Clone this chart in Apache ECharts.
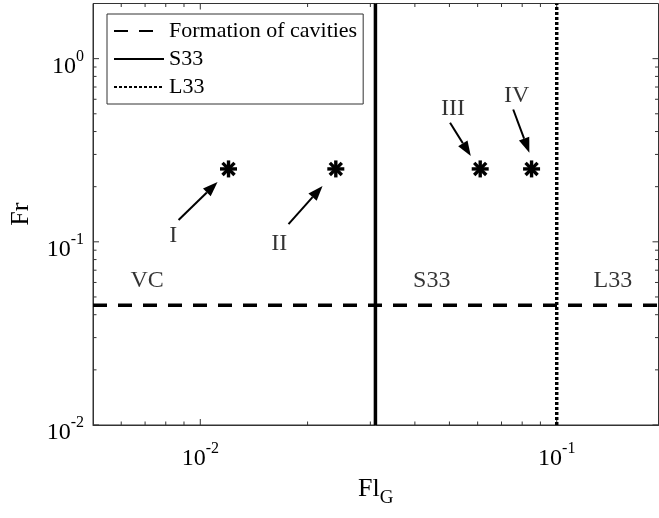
<!DOCTYPE html>
<html>
<head>
<meta charset="utf-8">
<script src="https://cdn.jsdelivr.net/npm/echarts@6/dist/echarts.min.js"></script>
<style>html,body{margin:0;padding:0;background:#fff}#c{width:659px;height:518px}</style>
</head>
<body>
<div id="c"></div>
<script>
// ---- data ----
const xMin = 0.005, xMax = 0.193, yMin = 0.01, yMax = 2;
const formationFr = 0.045;
const s33Fl = 0.031;
const l33Fl = 0.1;
const pointNames = ['I', 'II', 'III', 'IV'];
const pointsFl = [0.012, 0.024, 0.061, 0.085];
const pointsFr = [0.25, 0.25, 0.25, 0.25];
const arrowStartFl = [0.00869, 0.01768, 0.0502, 0.0755];
const arrowStartFr = [0.1315, 0.125, 0.4464, 0.5278];
const arrowEndFl = [0.01118, 0.02203, 0.0574, 0.0838];
const arrowEndFr = [0.2123, 0.202, 0.294, 0.3066];
const labelFl = [0.0084, 0.01665, 0.0512, 0.0772];
const labelFr = [0.108, 0.0977, 0.53, 0.624];
const regionNames = ['VC', 'S33', 'L33'];
const regionFl = [0.00709, 0.0446, 0.1438];
const regionFr = [0.0615, 0.0615, 0.0615];
const xMajorTicks = [0.01, 0.1];
const xMinorTicks = [0.006, 0.007, 0.008, 0.009, 0.02, 0.03, 0.04, 0.05, 0.06, 0.07, 0.08, 0.09];
const yMajorTicks = [0.01, 0.1, 1];
const yMinorTicks = [0.02, 0.03, 0.04, 0.05, 0.06, 0.07, 0.08, 0.09, 0.2, 0.3, 0.4, 0.5, 0.6, 0.7, 0.8, 0.9];

const FONT = 'Liberation Serif';
const AX = '#333';
const TXT = '#000';

function powLabel(v) {
  const l = Math.log10(v);
  const e = Math.round(l);
  if (Math.abs(l - e) > 1e-6) return '';
  return '{b|10}{s|' + e + '}';
}
const tickRich = {
  b: { fontFamily: FONT, fontSize: 24, color: TXT, lineHeight: 30, verticalAlign: 'bottom' },
  s: { fontFamily: FONT, fontSize: 16, color: TXT, lineHeight: 16, verticalAlign: 'top' }
};

const chart = echarts.init(document.getElementById('c'), null, { renderer: 'canvas' });

const xTickData = xMajorTicks.map(v => [v, yMin, 6]).concat(xMinorTicks.map(v => [v, yMin, 3.5]));
const yTickData = yMajorTicks.map(v => [xMin, v, 6]).concat(yMinorTicks.map(v => [xMin, v, 3.5]));

const option = {
  animation: false,
  backgroundColor: '#fff',
  color: ['#000', '#000', '#000'],
  grid: { left: 92.5, top: 3.5, width: 566, height: 421.5, show: true, borderColor: AX, borderWidth: 1, containLabel: false },
  legend: {
    data: ['Formation of cavities', 'S33', 'L33'],
    orient: 'vertical',
    left: 107, top: 14,
    itemWidth: 50, itemHeight: 20, itemGap: 6,
    padding: [6, 6, 6, 6],
    borderColor: AX, borderWidth: 1,
    backgroundColor: '#fff',
    itemStyle: { opacity: 0 },
    textStyle: { fontFamily: FONT, fontSize: 22, color: TXT, padding: [0, 0, 0, 0] },
    selectedMode: false
  },
  xAxis: {
    type: 'log', logBase: 10, min: xMin, max: xMax,
    name: '{a|Fl}{g|G}', nameLocation: 'middle', nameGap: 48,
    nameTextStyle: { rich: {
      a: { fontFamily: FONT, fontSize: 26, color: TXT, lineHeight: 32, verticalAlign: 'top' },
      g: { fontFamily: FONT, fontSize: 19, color: TXT, lineHeight: 32, verticalAlign: 'bottom', padding: [13, 0, 0, 0] }
    } },
    axisLine: { show: true, lineStyle: { color: AX, width: 1 } },
    axisTick: { show: false }, minorTick: { show: false },
    splitLine: { show: false },
    axisLabel: { margin: 16, showMinLabel: false, showMaxLabel: false, formatter: powLabel, rich: tickRich }
  },
  yAxis: {
    type: 'log', logBase: 10, min: yMin, max: yMax,
    name: 'Fr', nameLocation: 'middle', nameGap: 59, nameRotate: 90,
    nameTextStyle: { fontFamily: FONT, fontSize: 26, color: TXT },
    axisLine: { show: true, lineStyle: { color: AX, width: 1 } },
    axisTick: { show: false }, minorTick: { show: false },
    splitLine: { show: false },
    axisLabel: { margin: 9, showMaxLabel: false, formatter: powLabel, rich: tickRich, padding: [10, 0, 0, 0] }
  },
  series: [
    {
      name: 'Formation of cavities', type: 'line', symbol: 'none', silent: true,
      data: [[xMin, formationFr], [xMax, formationFr]],
      itemStyle: { color: '#000' },
      lineStyle: { color: '#000', width: 3.5, type: [14, 11] }
    },
    {
      name: 'S33', type: 'line', symbol: 'none', silent: true,
      data: [[s33Fl, yMin], [s33Fl, yMax]],
      itemStyle: { color: '#000' },
      lineStyle: { color: '#000', width: 3.5, type: 'solid' }
    },
    {
      name: 'L33', type: 'line', symbol: 'none', silent: true,
      data: [[l33Fl, yMin], [l33Fl, yMax]],
      itemStyle: { color: '#000' },
      lineStyle: { color: '#000', width: 3.5, type: [3, 2] }
    },
    {
      name: 'points', type: 'custom', silent: true, clip: false,
      data: pointsFl.map((x, i) => [x, pointsFr[i]]),
      renderItem: function (params, api) {
        const c = api.coord([api.value(0), api.value(1)]);
        const r = 8.5, children = [];
        for (let k = 0; k < 4; k++) {
          const a = k * Math.PI / 4;
          const dx = r * Math.cos(a), dy = r * Math.sin(a);
          children.push({ type: 'line', shape: { x1: c[0] - dx, y1: c[1] - dy, x2: c[0] + dx, y2: c[1] + dy },
            style: { stroke: '#000', lineWidth: 3.4, lineCap: 'butt' } });
        }
        return { type: 'group', children: children };
      }
    },
    {
      name: 'arrows', type: 'custom', silent: true, clip: false,
      data: arrowStartFl.map((x, i) => [x, arrowStartFr[i], arrowEndFl[i], arrowEndFr[i]]),
      renderItem: function (params, api) {
        const p1 = api.coord([api.value(0), api.value(1)]);
        const p2 = api.coord([api.value(2), api.value(3)]);
        const dx = p2[0] - p1[0], dy = p2[1] - p1[1];
        const L = Math.sqrt(dx * dx + dy * dy);
        const ux = dx / L, uy = dy / L;
        const hl = 15, hw = 5.5;
        const bx = p2[0] - ux * hl, by = p2[1] - uy * hl;
        return { type: 'group', children: [
          { type: 'line', shape: { x1: p1[0], y1: p1[1], x2: bx, y2: by }, style: { stroke: '#000', lineWidth: 2 } },
          { type: 'polygon', shape: { points: [[p2[0], p2[1]], [bx - uy * hw, by + ux * hw], [bx + uy * hw, by - ux * hw]] },
            style: { fill: '#000' } }
        ] };
      }
    },
    {
      name: 'labels', type: 'scatter', silent: true, symbolSize: 0,
      data: labelFl.map((x, i) => ({ value: [x, labelFr[i]], name: pointNames[i] }))
        .concat(regionFl.map((x, i) => ({ value: [x, regionFr[i]], name: regionNames[i] }))),
      label: { show: true, position: 'inside', formatter: '{b}', fontFamily: FONT, fontSize: 24, color: TXT }
    },
    {
      name: 'xticks', type: 'custom', silent: true, clip: false,
      data: xTickData,
      renderItem: function (params, api) {
        const v = api.value(0), len = api.value(2);
        const b = api.coord([v, yMin]), t = api.coord([v, yMax]);
        return { type: 'group', children: [
          { type: 'line', shape: { x1: b[0], y1: b[1], x2: b[0], y2: b[1] - len }, style: { stroke: AX, lineWidth: 1 } },
          { type: 'line', shape: { x1: t[0], y1: t[1], x2: t[0], y2: t[1] + len }, style: { stroke: AX, lineWidth: 1 } }
        ] };
      }
    },
    {
      name: 'yticks', type: 'custom', silent: true, clip: false,
      data: yTickData,
      renderItem: function (params, api) {
        const v = api.value(1), len = api.value(2);
        const l = api.coord([xMin, v]), r = api.coord([xMax, v]);
        return { type: 'group', children: [
          { type: 'line', shape: { x1: l[0], y1: l[1], x2: l[0] + len, y2: l[1] }, style: { stroke: AX, lineWidth: 1 } },
          { type: 'line', shape: { x1: r[0], y1: r[1], x2: r[0] - len, y2: r[1] }, style: { stroke: AX, lineWidth: 1 } }
        ] };
      }
    }
  ]
};
chart.setOption(option);
</script>
</body>
</html>
